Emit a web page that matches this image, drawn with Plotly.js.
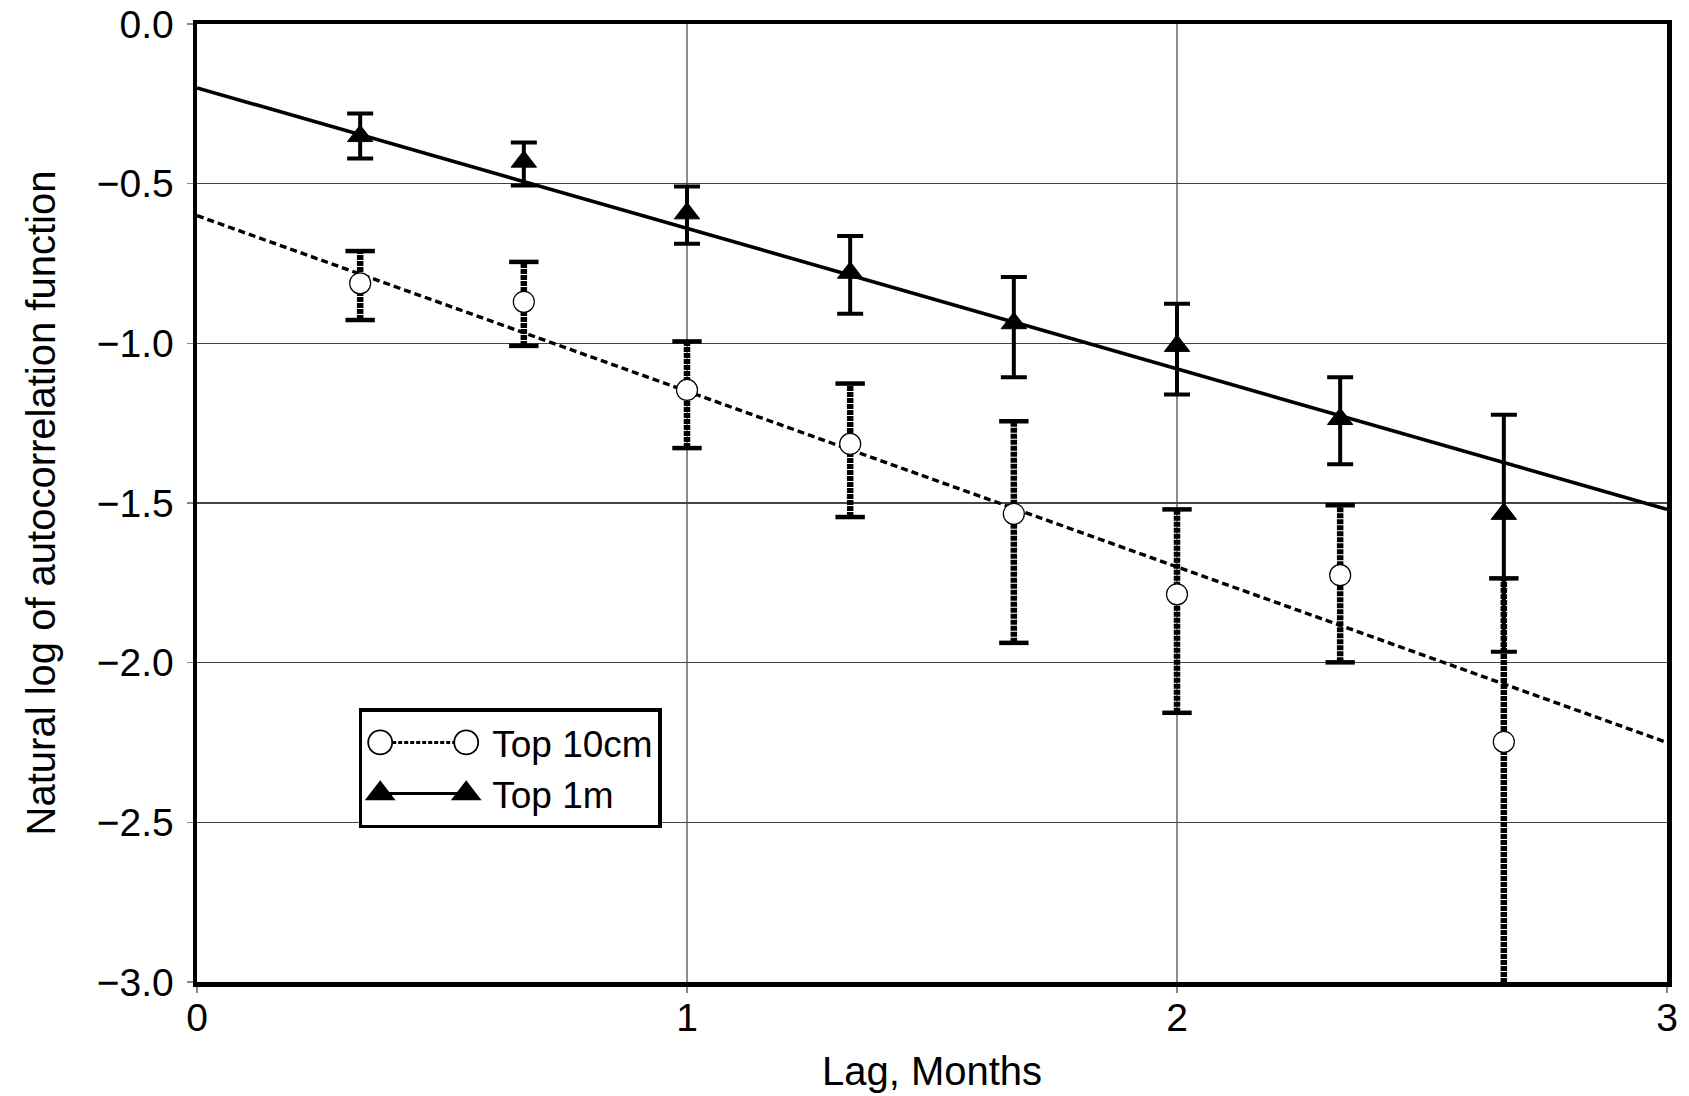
<!DOCTYPE html>
<html>
<head>
<meta charset="utf-8">
<script src="https://cdn.plot.ly/plotly-3.0.1.min.js"></script>
<style>html,body{margin:0;padding:0;background:#fff;}#chart{width:1689px;height:1096px;}</style>
</head>
<body>
<div id="chart"></div>
<script>
// Lag positions (months)
var lag = [0.333, 0.667, 1.0, 1.333, 1.667, 2.0, 2.333, 2.667];

// Top 10cm: ln(ACF), upper and lower error-bar ends
var top10 = [-0.812, -0.870, -1.146, -1.315, -1.534, -1.786, -1.726, -2.248];
var top10Hi = [-0.711, -0.745, -0.994, -1.126, -1.244, -1.520, -1.507, -1.736];
var top10Lo = [-0.927, -1.008, -1.328, -1.544, -1.938, -2.157, -1.999, -3.36];

// Top 1m: ln(ACF), upper and lower error-bar ends
var top1m = [-0.351, -0.431, -0.593, -0.779, -0.937, -1.008, -1.237, -1.534];
var top1mHi = [-0.280, -0.371, -0.509, -0.664, -0.792, -0.876, -1.106, -1.224];
var top1mLo = [-0.421, -0.506, -0.688, -0.907, -1.106, -1.160, -1.379, -1.966];

// Fitted lines (end points)
var fitX = [0, 3];
var fit10 = [-0.60, -2.25];
var fit1m = [-0.20, -1.52];

// Tick values
var xTicks = [0, 1, 2, 3];
var yTicks = [0, -0.5, -1.0, -1.5, -2.0, -2.5, -3.0];

var FONT = 'Liberation Sans, Arial, Helvetica, sans-serif';

function gapped(a) { var o = []; a.forEach(function (v) { o.push(v, null); }); return o; }
function segs(xs, lo, hi) {
  var sx = [], sy = [];
  for (var i = 0; i < xs.length; i++) { sx.push(xs[i], xs[i], null); sy.push(lo[i], hi[i], null); }
  return {x: sx, y: sy};
}
var s10 = segs(lag, top10Lo, top10Hi);
var capX = lag.concat(lag);
var capY10 = top10Hi.concat(top10Lo);

var traces = [
  {x: fitX, y: fit10, mode: 'lines', line: {color: '#000', width: 3.4, dash: '7px,4px'}, showlegend: false, hoverinfo: 'skip'},
  {x: fitX, y: fit1m, mode: 'lines', line: {color: '#000', width: 3.6}, showlegend: false, hoverinfo: 'skip'},
  {x: s10.x, y: s10.y, mode: 'lines', line: {color: '#000', width: 6.5, dash: '5px,1px'}, showlegend: false, hoverinfo: 'skip'},
  {x: capX, y: capY10, mode: 'markers', marker: {symbol: 'line-ew', size: 21, color: '#000', line: {color: '#000', width: 4.5}}, showlegend: false, hoverinfo: 'skip'},
  {x: gapped(lag), y: gapped(top10), name: 'Top 10cm', mode: 'lines+markers', connectgaps: false,
   line: {color: '#000', width: 3, dash: '4px,2px'},
   marker: {symbol: 'circle', size: 21, color: '#fff', line: {color: '#000', width: 1.2}}},
  {x: gapped(lag), y: gapped(top1m), name: 'Top 1m', mode: 'lines+markers', connectgaps: false,
   line: {color: '#000', width: 3},
   marker: {symbol: 'triangle-up', size: 22, color: '#000', line: {color: '#000', width: 1}},
   error_y: {type: 'data', symmetric: false,
     array: gapped(top1mHi.map(function (v, i) { return v - top1m[i]; })),
     arrayminus: gapped(top1m.map(function (v, i) { return v - top1mLo[i]; })),
     color: '#000', thickness: 4, width: 13}}
];

var layout = {
  width: 1689, height: 1096,
  margin: {l: 197, r: 22, t: 24, b: 114},
  paper_bgcolor: '#fff', plot_bgcolor: '#fff',
  font: {family: FONT, color: '#000', size: 36},
  showlegend: true,
  legend: {x: 0.11, y: 0.2856, xanchor: 'left', yanchor: 'top', bgcolor: '#fff',
    bordercolor: '#000', borderwidth: 3.5, font: {family: FONT, size: 37, color: '#000'},
    itemwidth: 120, tracegroupgap: 0},
  xaxis: {
    range: [0, 3], tickvals: xTicks, ticktext: xTicks.map(String),
    showgrid: true, gridcolor: '#8c8c8c', gridwidth: 1.3, zeroline: false,
    showline: true, linecolor: '#000', linewidth: 4.5, mirror: true,
    ticks: 'outside', ticklen: 6, tickwidth: 1.5, tickcolor: '#888',
    ticklabelstandoff: -8,
    tickfont: {family: FONT, size: 39, color: '#000'},
    title: {text: 'Lag, Months', font: {family: FONT, size: 40, color: '#000'}, standoff: 20}
  },
  yaxis: {
    range: [-3, 0], tickvals: yTicks, ticktext: yTicks.map(function (v) { return (v < 0 ? '\u2212' : '') + Math.abs(v).toFixed(1); }),
    showgrid: true, gridcolor: '#444', gridwidth: 1.1, zeroline: false,
    showline: true, linecolor: '#000', linewidth: 4.5, mirror: true,
    ticks: 'outside', ticklen: 6, tickwidth: 1.5, tickcolor: '#888',
    ticklabelstandoff: 5,
    tickfont: {family: FONT, size: 39, color: '#000'},
    title: {text: 'Natural log of autocorrelation function', font: {family: FONT, size: 40, color: '#000'}, standoff: 30}
  }
};

Plotly.newPlot('chart', traces, layout, {displayModeBar: false, staticPlot: true}).then(function (gd) {
  // Legend sample like the original: a line with a marker at each end
  var items = gd.querySelectorAll('.legend .traces');
  items.forEach(function (it) {
    var ln = it.querySelector('.legendlines path');
    if (ln) ln.setAttribute('d', 'M18,0h86');
    var p = it.querySelector('.legendpoints path.scatterpts');
    if (p) {
      p.setAttribute('transform', 'translate(18,0) scale(1.5)');
      var c = p.cloneNode(true);
      c.setAttribute('transform', 'translate(104,0) scale(1.5)');
      p.parentNode.appendChild(c);
    }
  });
});
</script>
</body>
</html>
